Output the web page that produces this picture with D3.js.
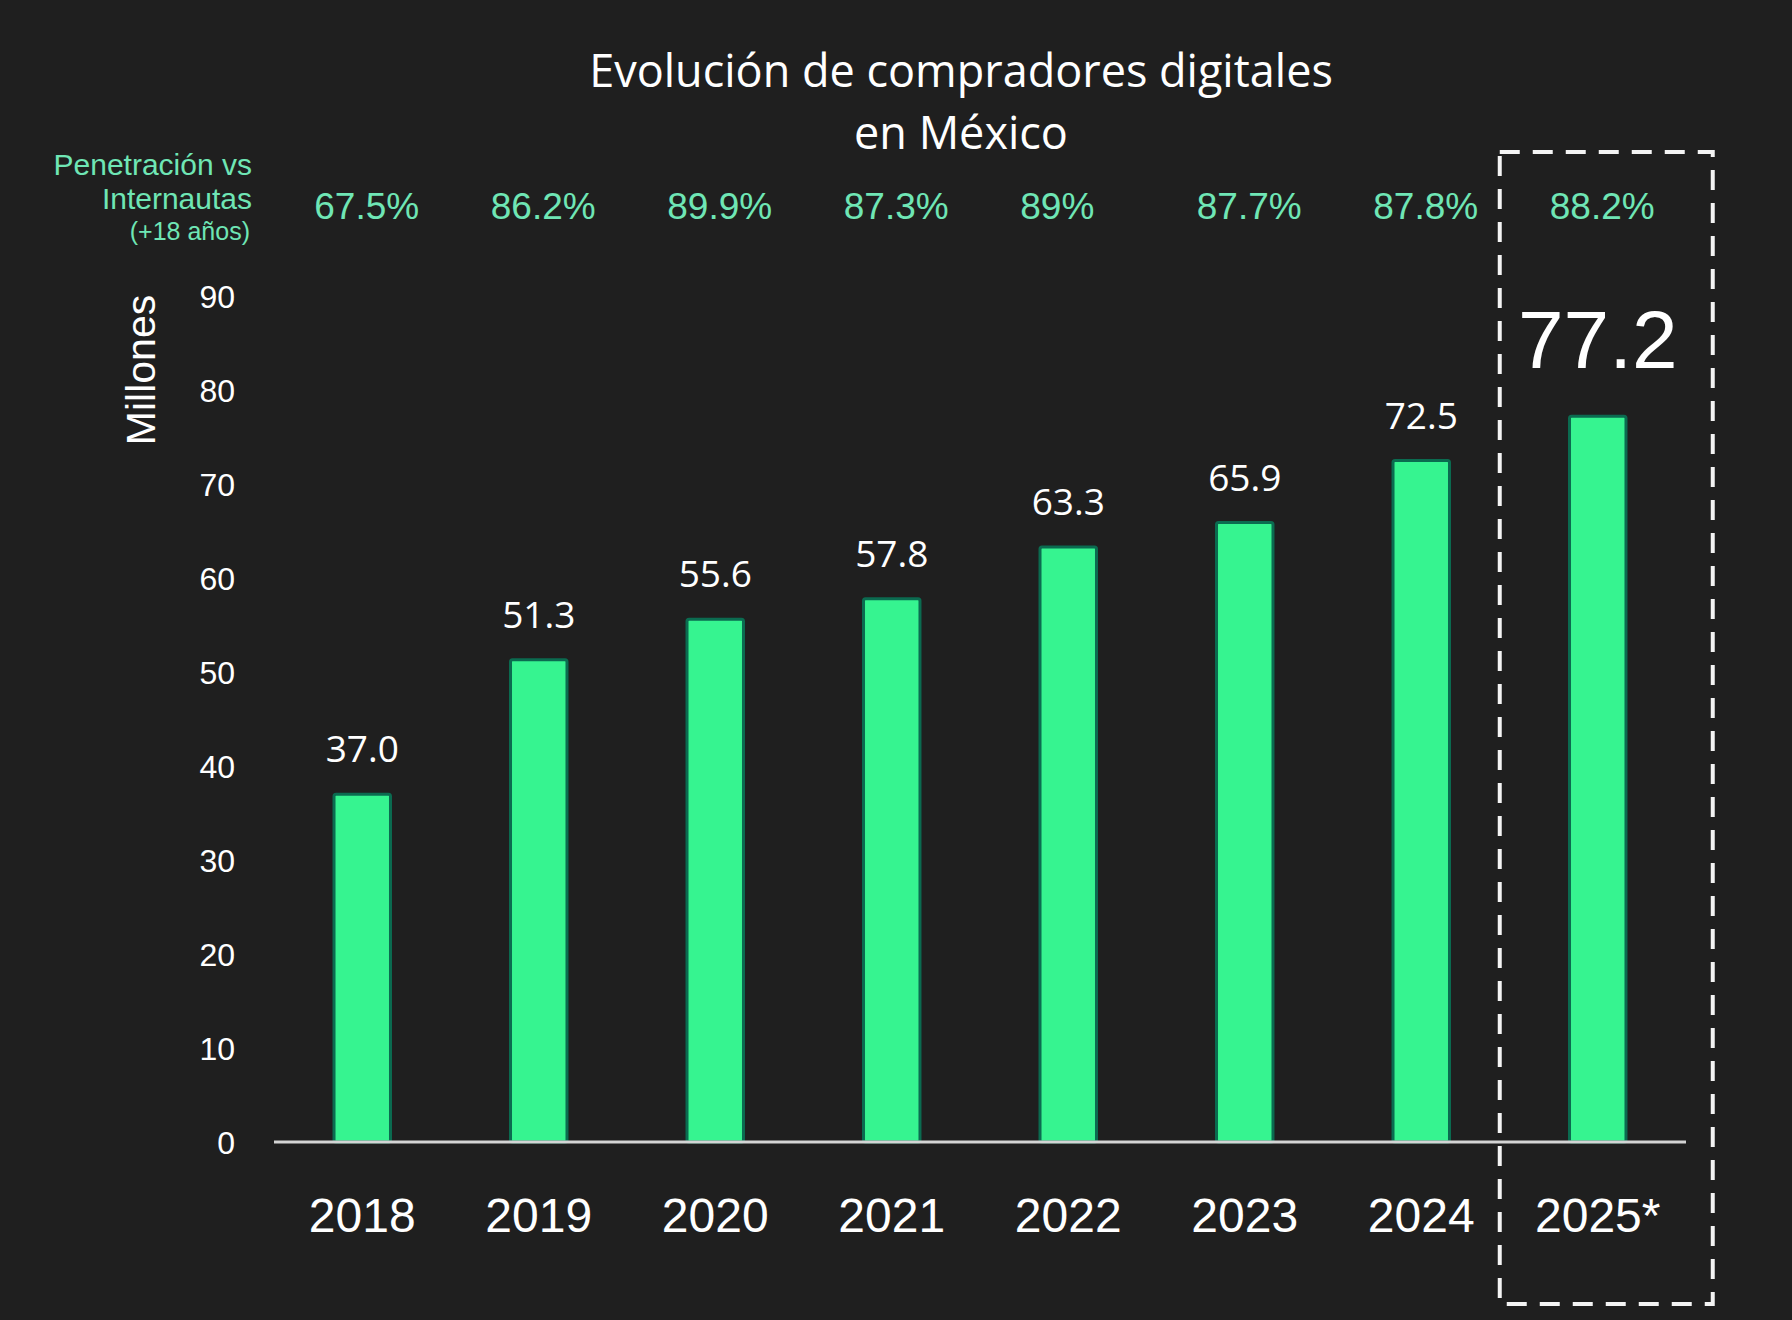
<!DOCTYPE html>
<html>
<head>
<meta charset="utf-8">
<script src="https://cdn.jsdelivr.net/npm/d3@7"></script>
<style>
  html, body { margin: 0; padding: 0; background: #1f1f1f; }
  svg { display: block; }
</style>
</head>
<body>
<script>
// chart data
var years = ["2018", "2019", "2020", "2021", "2022", "2023", "2024", "2025*"];
var buyers = [37.0, 51.3, 55.6, 57.8, 63.3, 65.9, 72.5, 77.2];
var penetration = ["67.5%", "86.2%", "89.9%", "87.3%", "89%", "87.7%", "87.8%", "88.2%"];
var yTicks = [0, 10, 20, 30, 40, 50, 60, 70, 80, 90];

var width = 1792, height = 1320;
var geo = "'Open Sans', sans-serif",   // stands in for the rounded title face
    sans = "'Liberation Sans', Arial, sans-serif";

var svg = d3.select("body").append("svg")
    .attr("width", width)
    .attr("height", height);

svg.append("rect")
    .attr("width", width)
    .attr("height", height)
    .attr("fill", "#1f1f1f");

// scales
var x = d3.scaleBand()
    .domain(years)
    .range([274, 1686])
    .paddingInner(0.68)
    .paddingOuter(0.34);
var y = d3.scaleLinear()
    .domain([0, 90])
    .range([1142, 296]);

// title
svg.append("text")
    .attr("x", 961).attr("y", 87)
    .attr("text-anchor", "middle")
    .attr("fill", "#ffffff")
    .style("font-family", geo).style("font-size", "45px")
    .text("Evolución de compradores digitales");
svg.append("text")
    .attr("x", 961).attr("y", 149)
    .attr("text-anchor", "middle")
    .attr("fill", "#ffffff")
    .style("font-family", geo).style("font-size", "45px")
    .text("en México");

// penetration label (compact face so the tight lines do not collide)
var pen = svg.append("g")
    .attr("fill", "#6fe6b5")
    .attr("text-anchor", "end")
    .style("font-family", sans);
pen.append("text").attr("x", 252).attr("y", 175).style("font-size", "30px").text("Penetración vs");
pen.append("text").attr("x", 252).attr("y", 209).style("font-size", "30px").text("Internautas");
pen.append("text").attr("x", 250).attr("y", 240).style("font-size", "25px").text("(+18 años)");

// penetration values, left aligned a little before the bar centre
svg.selectAll(".pct")
    .data(years)
    .enter()
    .append("text")
    .attr("class", "pct")
    .attr("x", function(d){ return x(d) + x.bandwidth() / 2 - 48; })
    .attr("y", 219)
    .attr("fill", "#6fe6b5")
    .style("font-family", sans).style("font-size", "37px")
    .text(function(d, i){ return penetration[i]; });

// y axis labels
svg.selectAll(".ytick")
    .data(yTicks)
    .enter()
    .append("text")
    .attr("class", "ytick")
    .attr("x", 235)
    .attr("y", function(d){ return y(d); })
    .attr("dy", "0.36em")
    .attr("text-anchor", "end")
    .attr("fill", "#ffffff")
    .style("font-family", sans).style("font-size", "32px")
    .text(function(d){ return d; });

svg.append("text")
    .attr("transform", "translate(155,370) rotate(-90)")
    .attr("text-anchor", "middle")
    .attr("fill", "#ffffff")
    .style("font-family", sans).style("font-size", "41px")
    .text("Millones");

// bars
svg.selectAll(".bar")
    .data(years)
    .enter()
    .append("rect")
    .attr("class", "bar")
    .attr("x", function(d){ return x(d); })
    .attr("width", x.bandwidth())
    .attr("y", function(d, i){ return y(buyers[i]); })
    .attr("height", function(d, i){ return y(0) - y(buyers[i]); })
    .attr("rx", 2)
    .attr("fill", "#36f490")
    .attr("stroke", "#0b6b50")
    .attr("stroke-width", 3);

// baseline
svg.append("line")
    .attr("x1", 274).attr("x2", 1686)
    .attr("y1", y(0)).attr("y2", y(0))
    .attr("stroke", "#d4d4d4")
    .attr("stroke-width", 3);

// value labels (the forecast year gets a large one)
svg.selectAll(".val")
    .data(years)
    .enter()
    .append("text")
    .attr("class", "val")
    .attr("x", function(d){ return x(d) + x.bandwidth() / 2; })
    .attr("y", function(d, i){ return y(buyers[i]) - (i == years.length - 1 ? 48 : 32); })
    .attr("text-anchor", "middle")
    .attr("fill", "#ffffff")
    .style("font-family", function(d, i){ return i == years.length - 1 ? sans : geo; })
    .style("font-size", function(d, i){ return i == years.length - 1 ? "82px" : "37px"; })
    .text(function(d, i){ return buyers[i].toFixed(1); });

// year labels
svg.selectAll(".year")
    .data(years)
    .enter()
    .append("text")
    .attr("class", "year")
    .attr("x", function(d){ return x(d) + x.bandwidth() / 2; })
    .attr("y", 1232)
    .attr("text-anchor", "middle")
    .attr("fill", "#ffffff")
    .style("font-family", sans).style("font-size", "48px")
    .text(function(d){ return d; });

// dashed frame round the forecast year
var last = years[years.length - 1];
var cx = x(last) + x.bandwidth() / 2;
svg.append("rect")
    .attr("x", cx - 98)
    .attr("y", 152)
    .attr("width", 213)
    .attr("height", 1152)
    .attr("fill", "none")
    .attr("stroke", "#f4f4f4")
    .attr("stroke-width", 4)
    .attr("stroke-dasharray", "20,13");
</script>
</body>
</html>
